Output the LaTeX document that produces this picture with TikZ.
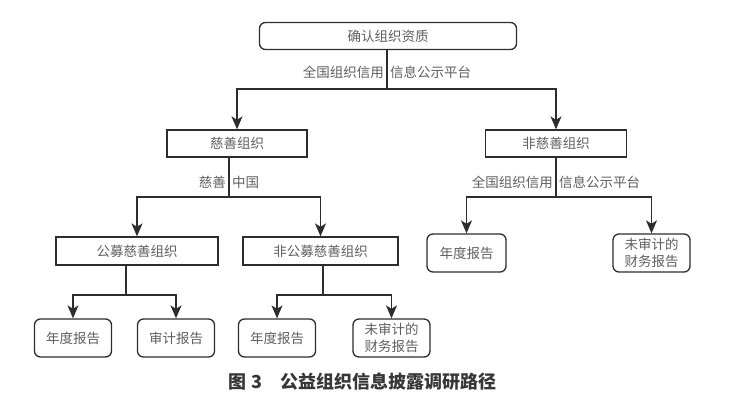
\documentclass[tikz,border=0pt]{standalone}
\usepackage{fontspec}
\setmainfont{Noto Sans CJK SC}
\usepackage{xcolor}
\usetikzlibrary{arrows.meta,positioning,calc}
\definecolor{linegray}{RGB}{45,45,45}
\definecolor{textgray}{RGB}{95,95,95}
\definecolor{captext}{RGB}{55,55,55}

\begin{document}
\begin{tikzpicture}[x=1pt, y=-1pt,
            box/.style={rectangle, draw=linegray, line width=1.3pt, minimum height=27pt, inner sep=0pt, text=textgray, font=\fontsize{13.5}{17}\selectfont},
            rbox/.style={box, rounded corners=6pt},
            leaf/.style={rbox, minimum width=77pt, minimum height=38pt, align=center},
            lbl/.style={inner sep=0pt, text=textgray, font=\fontsize{13.5}{17}\selectfont},
            link/.style={draw=linegray, line width=1.3pt},
            arrow/.style={link, -{Stealth[length=13pt, width=11pt, inset=3.5pt]}}
        ]
        \useasboundingbox (0,0) rectangle (738,401);

        % Top level
        \node[rbox, minimum width=257pt] (top) at (388,36) {确认组织资质};
        \coordinate (s0) at (387,89);
        \node[lbl, anchor=east] (lbla) at (384,72) {全国组织信用};
        \node[lbl, anchor=west] (lblb) at (390,72) {信息公示平台};

        % Charity branch
        \node[box, minimum width=140pt] (cs) at (237,143.5) {慈善组织};
        \coordinate (s1) at (229,197);
        \node[lbl, anchor=east] (lblc) at (226,182) {慈善};
        \node[lbl, anchor=west] (lbld) at (232,182) {中国};
        \node[box, minimum width=162pt, minimum height=28pt] (gm) at (137,251) {公募慈善组织};
        \node[box, minimum width=155pt, minimum height=28pt] (fgm) at (320.5,251) {非公募慈善组织};

        % Non-charity branch
        \node[box, minimum width=141pt] (ncs) at (556,143.5) {非慈善组织};
        \coordinate (s2) at (556,197);
        \node[lbl, anchor=east] (lble) at (553,182) {全国组织信用};
        \node[lbl, anchor=west] (lblf) at (559,182) {信息公示平台};
        \node[leaf, minimum width=79pt] (ncsa) at (466.5,253) {年度报告};
        \node[leaf] (ncsb) at (651.5,253) {未审计的\\财务报告};

        % Leaves
        \coordinate (s3) at (126,295);
        \coordinate (s4) at (323,295);
        \node[leaf] (gma) at (73,338) {年度报告};
        \node[leaf] (gmb) at (176,338) {审计报告};
        \node[leaf] (fgma) at (277,338) {年度报告};
        \node[leaf] (fgmb) at (391.5,338) {未审计的\\财务报告};

        % Connectors
        \draw[link] (top.south -| s0) -- (s0);
        \draw[arrow] (s0) -| (cs);
        \draw[arrow] (s0) -| (ncs);
        \draw[link] (cs.south -| s1) -- (s1);
        \draw[arrow] (s1) -| (gm);
        \draw[arrow] (s1) -| (fgm);
        \draw[link] (ncs.south -| s2) -- (s2);
        \draw[arrow] (s2) -| (ncsa);
        \draw[arrow] (s2) -| (ncsb);
        \draw[link] (gm.south -| s3) -- (s3);
        \draw[arrow] (s3) -| (gma);
        \draw[arrow] (s3) -| (gmb);
        \draw[link] (fgm.south -| s4) -- (s4);
        \draw[arrow] (s4) -| (fgma);
        \draw[arrow] (s4) -| (fgmb);

        % Caption
        \node[inner sep=0pt, text=captext, font=\fontsize{18}{21}\selectfont\bfseries] (cap) at (362.5,382) {图 3\hspace{1em}公益组织信息披露调研路径};

        \end{tikzpicture}
\end{document}
